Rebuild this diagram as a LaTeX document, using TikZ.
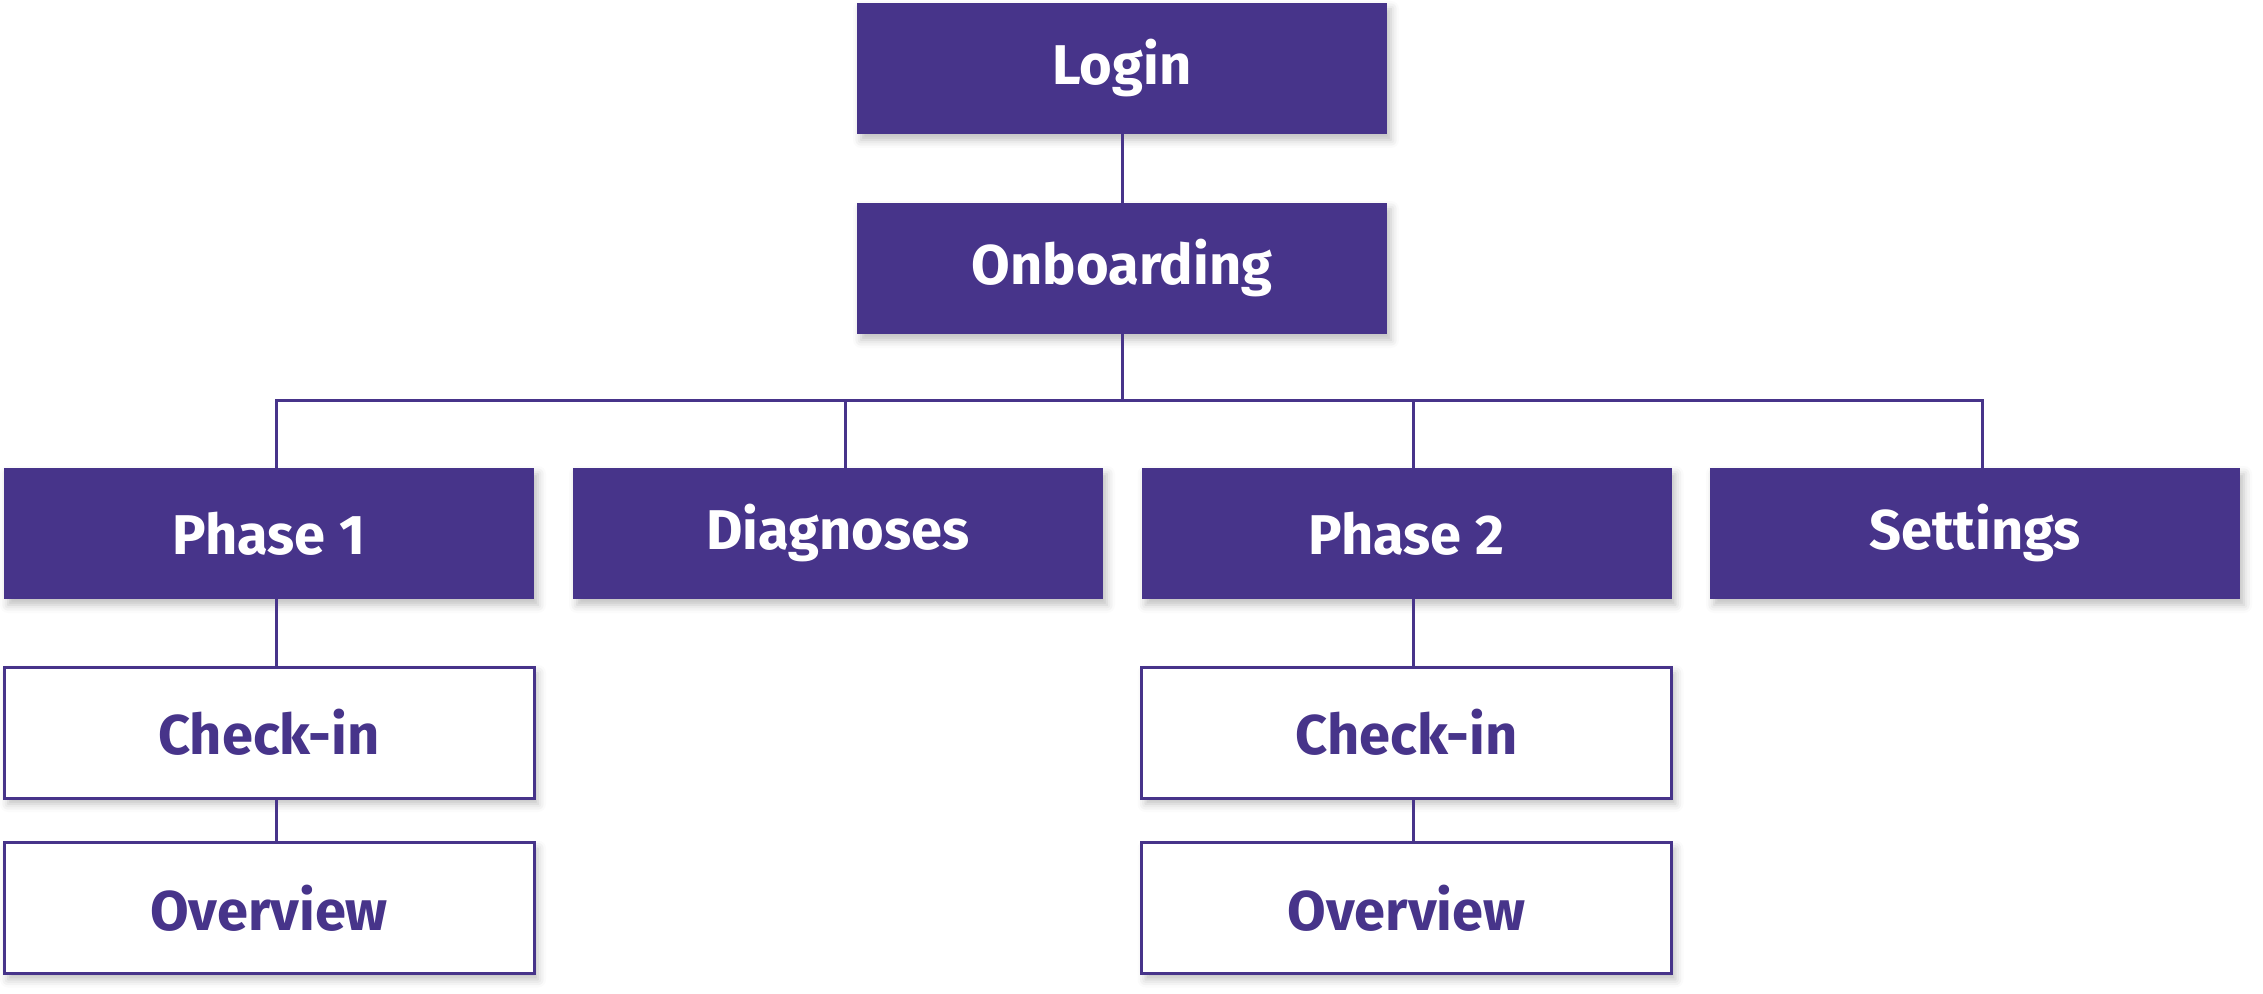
\documentclass[tikz,border=0pt]{standalone}
\usepackage{fontspec}
\setmainfont{Fira Sans}
\usetikzlibrary{shadows.blur,calc}
\definecolor{navpurple}{RGB}{71,52,138}
\begin{document}
\begin{tikzpicture}[x=0.5pt,y=-0.5pt,
  box/.style={rectangle, minimum width=265pt, minimum height=65.5pt, inner sep=0pt,
    font=\fontsize{28}{32}\selectfont\bfseries,
    blur shadow={shadow xshift=2pt, shadow yshift=-3pt, shadow blur radius=4pt, shadow opacity=25}},
  filledbox/.style={box, fill=navpurple, text=white},
  openbox/.style={box, fill=white, draw=navpurple, line width=1.5pt, text=navpurple},
  conn/.style={draw=navpurple, line width=1.5pt}]
\useasboundingbox (0,0) rectangle (2263,994);
\node[filledbox] (login) at (1122,68.5) {Login};
\node[filledbox] (onb) at (1122,268.5) {Onboarding};
\node[filledbox] (p1) at (269,533.5) {Phase 1};
\node[filledbox] (diag) at (838,533.5) {Diagnoses};
\node[filledbox] (p2) at (1406.5,533.5) {Phase 2};
\node[filledbox] (set) at (1975,533.5) {Settings};
\node[openbox] (c1) at (269,732.5) {Check-in};
\node[openbox] (o1) at (269,908) {Overview};
\node[openbox] (c2) at (1406.5,732.5) {Check-in};
\node[openbox] (o2) at (1406.5,908) {Overview};
\coordinate (bar) at (1122,400);
\coordinate (p1t) at ($(p1.north)+(7,0)$);
\coordinate (diagt) at ($(diag.north)+(7,0)$);
\coordinate (p2t) at ($(p2.north)+(7,0)$);
\coordinate (sett) at ($(set.north)+(7,0)$);
\draw[conn] (login) -- (onb);
\draw[conn] (onb) -- (bar);
\draw[conn] (p1t) |- (bar) -| (sett);
\draw[conn] (diagt) -- (diagt |- bar);
\draw[conn] (p2t) -- (p2t |- bar);
\draw[conn] (p1t |- p1.south) -- (p1t |- c1.north);
\draw[conn] (p1t |- c1.south) -- (p1t |- o1.north);
\draw[conn] (p2t |- p2.south) -- (p2t |- c2.north);
\draw[conn] (p2t |- c2.south) -- (p2t |- o2.north);
\end{tikzpicture}
\end{document}
